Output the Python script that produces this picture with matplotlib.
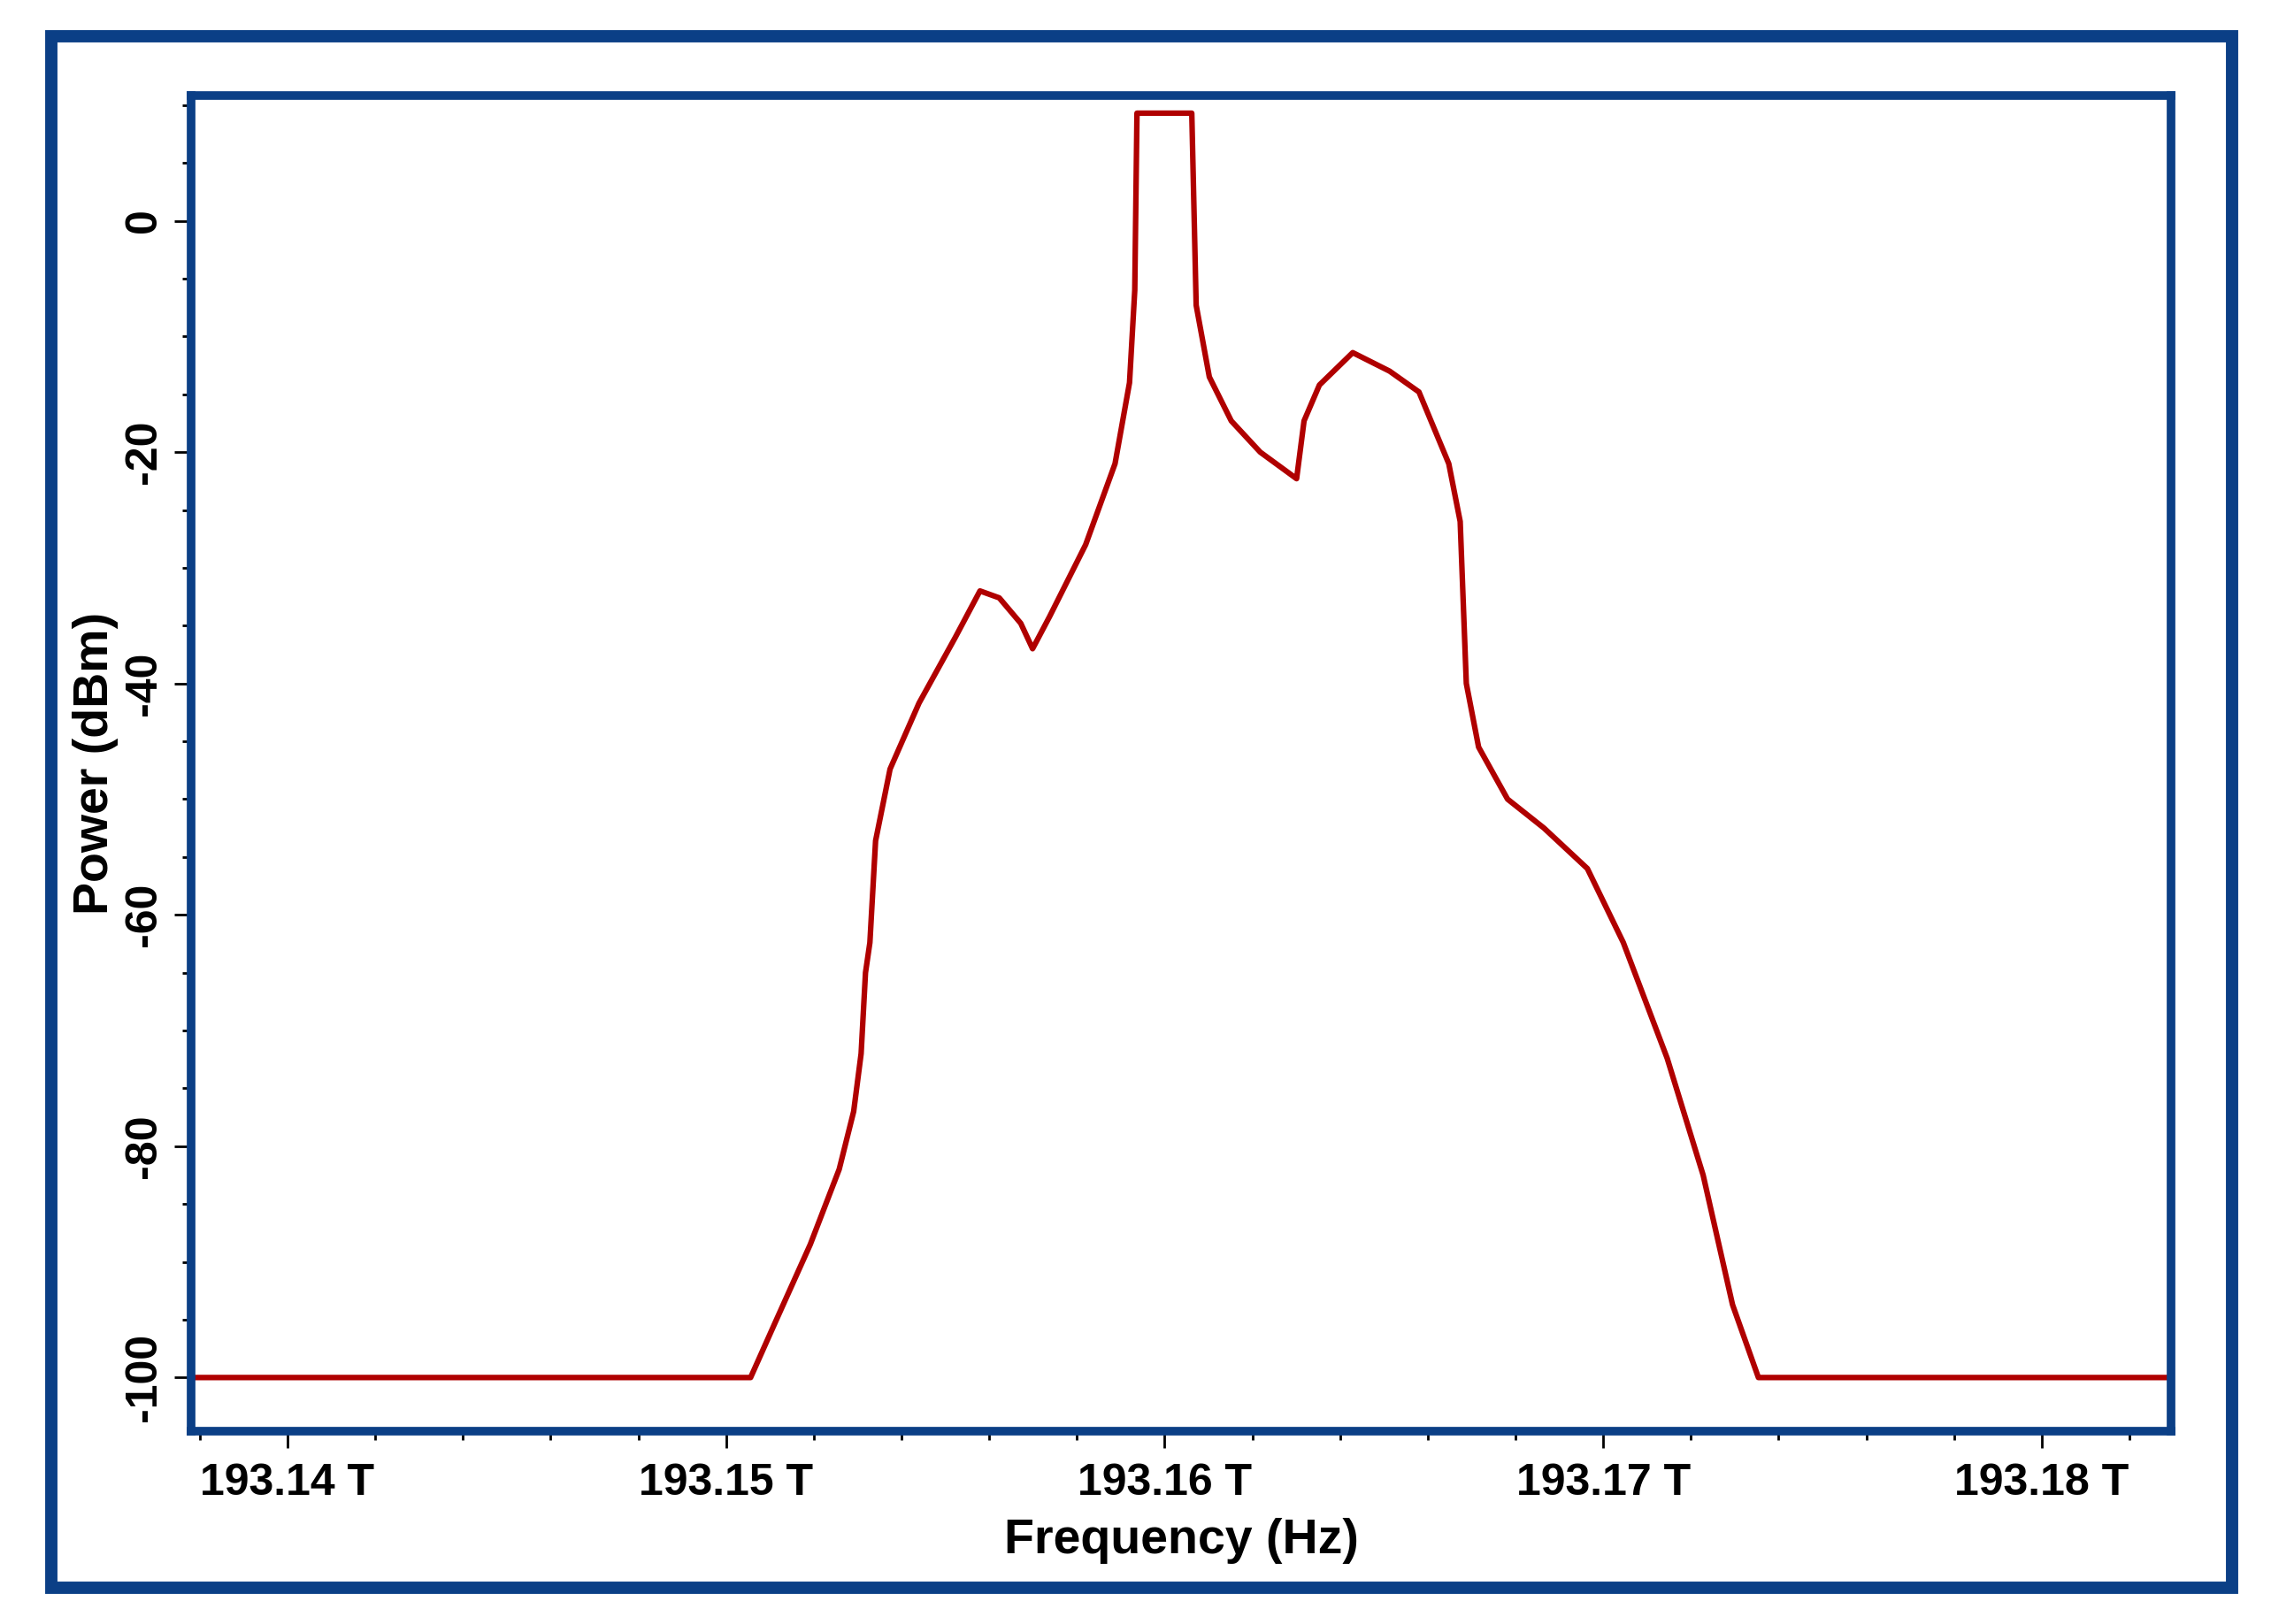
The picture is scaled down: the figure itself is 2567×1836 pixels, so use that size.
import matplotlib.pyplot as plt
from matplotlib.patches import Rectangle
from matplotlib.ticker import MultipleLocator, FuncFormatter

# spectrum trace (frequency in THz, power in dBm)
freq = [193.1378, 193.15056, 193.15109, 193.15192, 193.15258, 193.15291, 193.15308,
        193.15318, 193.15328, 193.15341, 193.15374, 193.1544, 193.15523, 193.15579,
        193.15623, 193.15672, 193.15699, 193.15738, 193.1582, 193.15887, 193.1592,
        193.15932, 193.15937, 193.16062, 193.16072, 193.16102, 193.16152, 193.16218,
        193.16301, 193.16318, 193.16353, 193.16429, 193.16513, 193.1658, 193.16648,
        193.16674, 193.16688, 193.16716, 193.16782, 193.16865, 193.16964,
        193.17046, 193.17146, 193.17228, 193.17295, 193.17354, 193.18283]
power = [-100, -100, -95.5, -88.5, -82, -77, -72, -65, -62.4, -53.6, -47.4, -41.7,
         -36, -32, -32.6, -34.8, -37, -34.2, -28, -21, -14, -6, 9.3, 9.3, -7.3,
         -13.5, -17.3, -20, -22.3, -17.3, -14.2, -11.4, -13, -14.8, -21, -26, -40,
         -45.5, -50, -52.5, -56, -62.4, -72.4, -82.5, -93.7, -100, -100]

blue = '#0b3f86'
plt.rcParams['font.family'] = ['Liberation Sans', 'DejaVu Sans']
plt.rcParams['font.weight'] = 'bold'

fig = plt.figure(figsize=(25.67, 18.36), dpi=100)
fig.patches.append(Rectangle((0.0224, 0.0223), 0.9606, 0.9554, transform=fig.transFigure,
                             fill=False, edgecolor=blue, linewidth=10))
ax = fig.add_axes([0.0843, 0.119, 0.8717, 0.822])
ax.plot(freq, power, color='#b00000', linewidth=4.5)
ax.set_xlim(193.13781, 193.18295)
ax.set_ylim(-104.6, 10.8)

for s in ax.spines.values():
    s.set_color(blue)
    s.set_linewidth(7)

ax.xaxis.set_major_locator(MultipleLocator(0.01))
ax.xaxis.set_minor_locator(MultipleLocator(0.002))
ax.yaxis.set_major_locator(MultipleLocator(20))
ax.yaxis.set_minor_locator(MultipleLocator(5))
ax.xaxis.set_major_formatter(FuncFormatter(lambda v, p: f'{v:.2f} T'))
ax.yaxis.set_major_formatter(FuncFormatter(lambda v, p: f'{v:.0f}'))
ax.tick_params(which='major', length=14, width=2, labelsize=36, pad=8)
ax.tick_params(axis='x', which='major', pad=12)
ax.tick_params(which='minor', length=7, width=2)
for lab in ax.get_yticklabels():
    lab.set_rotation(90)
    lab.set_va('center')

ax.set_xlabel('Frequency (Hz)', fontsize=40, fontweight='bold', labelpad=12)
ax.set_ylabel('Power (dBm)', fontsize=40, fontweight='bold', labelpad=4)

fig.savefig('out.png', dpi=100)
